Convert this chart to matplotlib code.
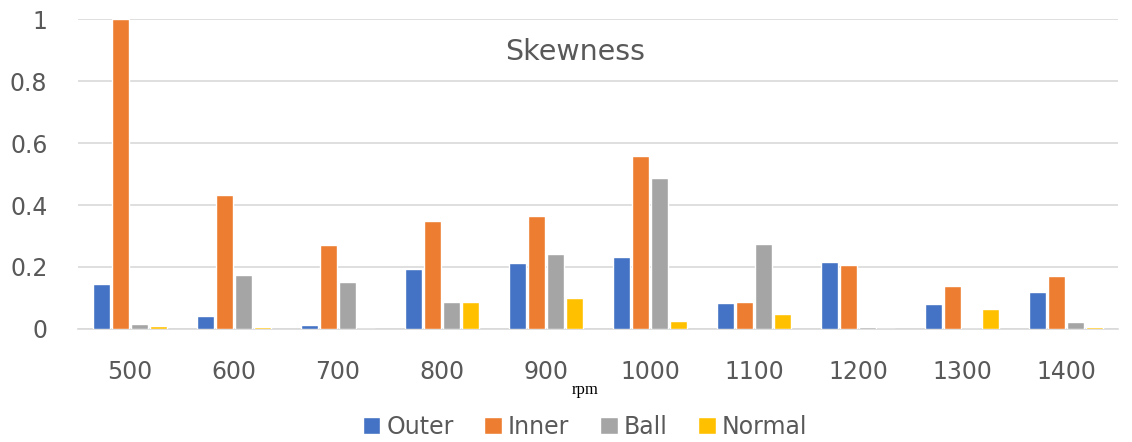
import numpy as np
import matplotlib.pyplot as plt

# Valores
rpm = ['500', '600', '700', '800', '900', '1000', '1100', '1200', '1300', '1400']
outer = [0.145, 0.042, 0.013, 0.193, 0.213, 0.232, 0.084, 0.216, 0.081, 0.119]
inner = [1.0, 0.432, 0.270, 0.350, 0.365, 0.557, 0.087, 0.207, 0.138, 0.171]
ball = [0.016, 0.174, 0.152, 0.087, 0.242, 0.487, 0.274, 0.007, 0.0, 0.023]
normal = [0.010, 0.007, 0.0, 0.087, 0.100, 0.026, 0.047, 0.0, 0.066, 0.007]

series = [('Outer', outer, '#4472C4'), ('Inner', inner, '#ED7D31'),
          ('Ball', ball, '#A5A5A5'), ('Normal', normal, '#FFC000')]

plt.rcParams['font.family'] = ['DejaVu Sans']
text_color = '#595959'

fig = plt.figure(figsize=(11.32, 4.42), dpi=100)
ax = fig.add_axes([78/1132, 113/442, 1040/1132, 310/442])

x = np.arange(len(rpm))
step = 0.183
for i, (name, vals, color) in enumerate(series):
    ax.bar(x + (i - 1.5) * step, vals, width=0.165, color=color,
           edgecolor='white', linewidth=1.0, label=name, zorder=3)

ax.set_xlim(-0.5, len(rpm) - 0.5)
ax.set_ylim(0, 1)
ax.set_yticks([0, 0.2, 0.4, 0.6, 0.8, 1])
ax.set_yticklabels(['0', '0.2', '0.4', '0.6', '0.8', '1'])
ax.set_xticks(x)
ax.set_xticklabels(rpm)
ax.tick_params(axis='both', length=0, labelsize=17, colors=text_color)
ax.tick_params(axis='y', pad=22)
ax.tick_params(axis='x', pad=22)

ax.grid(axis='y', color='#D9D9D9', linewidth=1.2, zorder=0)
for s in ['top', 'right', 'left']:
    ax.spines[s].set_visible(False)
ax.spines['bottom'].set_color('#D9D9D9')
ax.spines['bottom'].set_linewidth(1.2)

ax.text(0.478, 0.895, 'Skewness', transform=ax.transAxes, ha='center', va='center',
        fontsize=20.5, color=text_color)

fig.text(585/1132, 1 - 390/442, 'rpm', ha='center', va='center',
         fontsize=12, family='Liberation Serif', color='black')

fig.legend(loc='center', bbox_to_anchor=(585/1132, 1 - 427/442), ncol=4, frameon=False,
           fontsize=17, handlelength=0.75, handleheight=0.75, handletextpad=0.25,
           columnspacing=1.3, labelcolor=text_color, borderaxespad=0)

fig.savefig('out.png', dpi=100)
